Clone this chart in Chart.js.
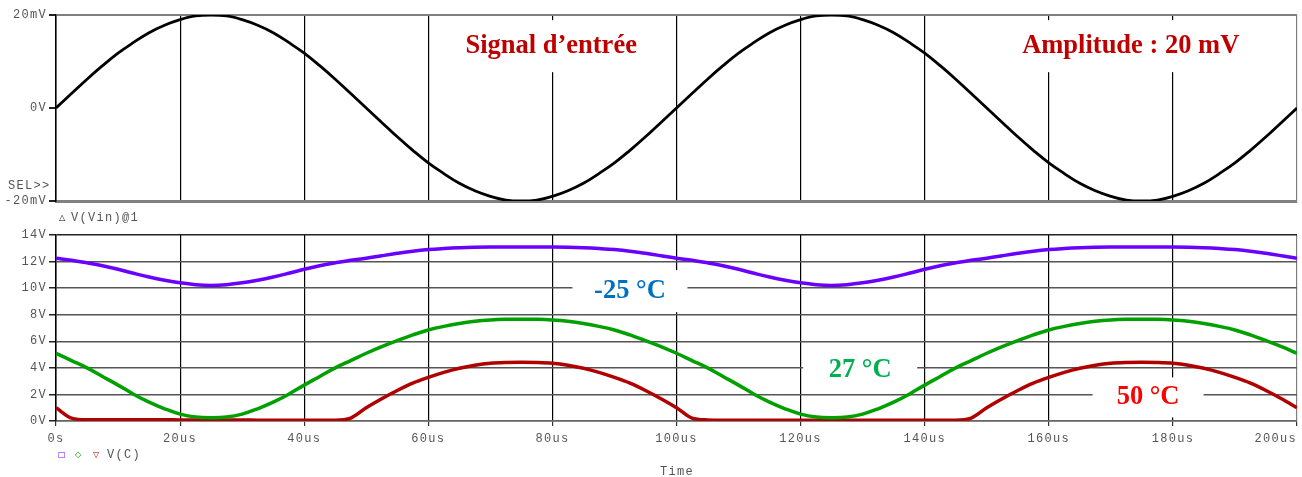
<!DOCTYPE html>
<html>
<head>
<meta charset="utf-8">
<script src="https://cdn.jsdelivr.net/npm/chart.js@4.4.1/dist/chart.umd.min.js"></script>
<style>
  body { margin: 0; background: #fff; width: 1302px; height: 477px; overflow: hidden; position: relative; }
  canvas { position: absolute; left: 0; }
  #topChart { top: 0; }
  #botChart { top: 220px; }
  .txt { position: absolute; font-family: "Liberation Mono", monospace; font-size: 12px; line-height: 12px; color: #555; letter-spacing: 1.3px; white-space: nowrap; }
  .sym { position: absolute; font-family: "DejaVu Sans", sans-serif; font-size: 8px; line-height: 8px; }
</style>
</head>
<body>
<canvas id="topChart" width="1302" height="230"></canvas>
<canvas id="botChart" width="1302" height="257"></canvas>

<div class="txt" style="left:8px; top:180px;">SEL&gt;&gt;</div>
<div class="sym" style="left:59px; top:214px; color:#000;">△</div>
<div class="txt" style="left:71px; top:212px;">V(Vin)@1</div>
<div class="sym" style="left:58px; top:451px; color:#6a00ff;">□</div>
<div class="sym" style="left:75px; top:451px; color:#00a000;">◇</div>
<div class="sym" style="left:93px; top:451px; color:#b00000;">▽</div>
<div class="txt" style="left:107px; top:449px;">V(C)</div>
<div class="txt" style="left:660px; top:466px;">Time</div>

<script>
// time axis, us (2.5us step)
const times = Array.from({ length: 81 }, (_, i) => i * 2.5)

// input signal, mV
const vin = [
  0, 3.1, 6.2, 9.1, 11.8, 14.1, 16.2, 17.8, 19.0, 19.8, 20, 19.8, 19.0, 17.8, 16.2, 14.1, 11.8, 9.1, 6.2, 3.1,
  0, -3.1, -6.2, -9.1, -11.8, -14.1, -16.2, -17.8, -19.0, -19.8, -20, -19.8, -19.0, -17.8, -16.2, -14.1, -11.8, -9.1, -6.2, -3.1,
  0, 3.1, 6.2, 9.1, 11.8, 14.1, 16.2, 17.8, 19.0, 19.8, 20, 19.8, 19.0, 17.8, 16.2, 14.1, 11.8, 9.1, 6.2, 3.1,
  0, -3.1, -6.2, -9.1, -11.8, -14.1, -16.2, -17.8, -19.0, -19.8, -20, -19.8, -19.0, -17.8, -16.2, -14.1, -11.8, -9.1, -6.2, -3.1,
  0
]

// V(C) at -25 °C, V
const vcCold = [
  12.25, 12.1, 11.9, 11.68, 11.42, 11.12, 10.84, 10.6, 10.4, 10.26, 10.2, 10.26, 10.4, 10.6, 10.84, 11.12, 11.42, 11.68, 11.9, 12.1,
  12.25, 12.44, 12.62, 12.78, 12.9, 12.98, 13.04, 13.08, 13.1, 13.1, 13.1, 13.1, 13.1, 13.08, 13.04, 12.98, 12.9, 12.78, 12.62, 12.44,
  12.25, 12.1, 11.9, 11.68, 11.42, 11.12, 10.84, 10.6, 10.4, 10.26, 10.2, 10.26, 10.4, 10.6, 10.84, 11.12, 11.42, 11.68, 11.9, 12.1,
  12.25, 12.44, 12.62, 12.78, 12.9, 12.98, 13.04, 13.08, 13.1, 13.1, 13.1, 13.1, 13.1, 13.08, 13.04, 12.98, 12.9, 12.78, 12.62, 12.44,
  12.25
]

// V(C) at 27 °C, V
const vcRoom = [
  5.1, 4.55, 4.0, 3.35, 2.7, 2.02, 1.42, 0.92, 0.52, 0.3, 0.25, 0.3, 0.52, 0.92, 1.42, 2.02, 2.7, 3.35, 4.0, 4.55,
  5.1, 5.6, 6.05, 6.48, 6.85, 7.12, 7.34, 7.5, 7.6, 7.65, 7.66, 7.65, 7.6, 7.5, 7.34, 7.12, 6.85, 6.48, 6.05, 5.6,
  5.1, 4.55, 4.0, 3.35, 2.7, 2.02, 1.42, 0.92, 0.52, 0.3, 0.25, 0.3, 0.52, 0.92, 1.42, 2.02, 2.7, 3.35, 4.0, 4.55,
  5.1, 5.6, 6.05, 6.48, 6.85, 7.12, 7.34, 7.5, 7.6, 7.65, 7.66, 7.65, 7.6, 7.5, 7.34, 7.12, 6.85, 6.48, 6.05, 5.6,
  5.1
]

// V(C) at 50 °C, V
const vcHot = [
  1.0, 0.22, 0.1, 0.1, 0.1, 0.1, 0.1, 0.1, 0.08, 0.08, 0.08, 0.08, 0.08, 0.06, 0.06, 0.06, 0.06, 0.06, 0.06, 0.22,
  1.0, 1.68, 2.3, 2.85, 3.28, 3.66, 3.97, 4.2, 4.35, 4.41, 4.43, 4.41, 4.35, 4.2, 3.97, 3.66, 3.28, 2.85, 2.3, 1.68,
  1.0, 0.22, 0.08, 0.06, 0.06, 0.06, 0.06, 0.06, 0.06, 0.06, 0.06, 0.06, 0.06, 0.06, 0.06, 0.06, 0.06, 0.06, 0.06, 0.22,
  1.0, 1.68, 2.3, 2.85, 3.28, 3.66, 3.97, 4.2, 4.35, 4.41, 4.43, 4.41, 4.35, 4.2, 3.97, 3.66, 3.28, 2.85, 2.3, 1.68,
  1.0
]

const xTicks = [0, 20, 40, 60, 80, 100, 120, 140, 160, 180, 200]
const xTickLabels = ['0s', '20us', '40us', '60us', '80us', '100us', '120us', '140us', '160us', '180us', '200us']
const topTickLabels = { '-20': '-20mV', '0': '0V', '20': '20mV' }

const topNotes = [
  { text: 'Signal d\u2019entrée', x: 79.8, y: 13.3, w: 214, h: 52, color: '#c00000' },
  { text: 'Amplitude : 20 mV', x: 173.2, y: 13.3, w: 262, h: 52, color: '#c00000' }
]
const botNotes = [
  { text: '-25 °C', x: 92.5, y: 10, w: 115, h: 42, dy: 3, color: '#0070c0' },
  { text: '27 °C', x: 129.6, y: 4, w: 114, h: 40, dy: 2, color: '#00b050' },
  { text: '50 °C', x: 176, y: 2, w: 111, h: 40, dy: 3, color: '#ff0000' }
]

const toPoints = vals => times.map((t, i) => ({ x: t, y: vals[i] }))

// spaced-out mono tick text, like the simulator output
const spacing = {
  id: 'spacing',
  beforeDraw(chart) {
    chart.ctx.letterSpacing = '1.3px'
  }
}

// text labels sitting on white boxes over the grid
function notesPlugin(items) {
  return {
    id: 'notes',
    beforeDatasetsDraw(chart) {
      const ctx = chart.ctx
      const xs = chart.scales.x
      const ys = chart.scales.y
      items.forEach(it => {
        const cx = xs.getPixelForValue(it.x)
        const cy = ys.getPixelForValue(it.y) + (it.dy || 0)
        ctx.save()
        ctx.letterSpacing = '0px'
        ctx.fillStyle = '#fff'
        ctx.fillRect(cx - it.w / 2, cy - it.h / 2, it.w, it.h)
        ctx.font = 'bold 26.5px "Liberation Serif"'
        ctx.fillStyle = it.color
        ctx.textAlign = 'center'
        ctx.textBaseline = 'middle'
        ctx.fillText(it.text, cx, cy)
        ctx.restore()
      })
    }
  }
}

const tickFont = { family: "'Liberation Mono', monospace", size: 12 }

function xAxis(showLabels) {
  return {
    type: 'linear',
    min: 0,
    max: 200,
    afterBuildTicks: s => { s.ticks = xTicks.map(v => ({ value: v })) },
    ticks: {
      display: showLabels,
      color: '#555',
      font: tickFont,
      padding: 6,
      maxRotation: 0,
      autoSkip: false,
      callback: v => {
        const lbl = xTickLabels[xTicks.indexOf(v)]
        return v === 200 ? lbl + '     ' : lbl
      }
    },
    grid: {
      color: c => (c.tick && c.tick.value === 200) ? '#808080' : '#000',
      lineWidth: 1.2,
      drawTicks: showLabels,
      tickLength: 5,
      tickColor: '#333'
    },
    border: { display: true, color: showLabels ? '#666' : '#808080', width: showLabels ? 1.5 : 3 },
    afterFit: s => {
      s.height = showLabels ? 36 : 0
      s.paddingLeft = 0
      s.paddingRight = 0
    }
  }
}

new Chart(document.getElementById('topChart'), {
  type: 'line',
  data: {
    datasets: [{
      data: toPoints(vin),
      borderColor: '#000',
      borderWidth: 2.8,
      pointRadius: 0,
      tension: 0.4,
      fill: false
    }]
  },
  options: {
    responsive: false,
    animation: false,
    devicePixelRatio: 1,
    layout: { padding: { left: 0, right: 5, top: 15, bottom: 29 } },
    plugins: { legend: { display: false }, tooltip: { enabled: false } },
    scales: {
      x: xAxis(false),
      y: {
        min: -20,
        max: 20,
        ticks: {
          stepSize: 20,
          color: '#555',
          font: tickFont,
          padding: 2,
          callback: v => topTickLabels[String(v)]
        },
        grid: {
          color: c => (c.tick && c.tick.value === 0) ? 'rgba(0,0,0,0)' : '#808080',
          lineWidth: 2,
          tickLength: 7,
          tickColor: '#222'
        },
        border: { color: '#000', width: 1.5 },
        afterFit: s => { s.width = 56 }
      }
    }
  },
  plugins: [spacing, notesPlugin(topNotes)]
})

new Chart(document.getElementById('botChart'), {
  type: 'line',
  data: {
    datasets: [
      { label: '-25 °C', data: toPoints(vcCold), borderColor: '#6a00ff', borderWidth: 3.5, pointRadius: 0, tension: 0.4, fill: false },
      { label: '27 °C', data: toPoints(vcRoom), borderColor: '#00a000', borderWidth: 3.5, pointRadius: 0, tension: 0.4, fill: false },
      { label: '50 °C', data: toPoints(vcHot), borderColor: '#b00000', borderWidth: 3.5, pointRadius: 0, cubicInterpolationMode: 'monotone', fill: false }
    ]
  },
  options: {
    responsive: false,
    animation: false,
    devicePixelRatio: 1,
    layout: { padding: { left: 0, right: 5, top: 15, bottom: 20 } },
    plugins: { legend: { display: false }, tooltip: { enabled: false } },
    scales: {
      x: xAxis(true),
      y: {
        min: 0,
        max: 14,
        ticks: {
          stepSize: 2,
          color: '#555',
          font: tickFont,
          padding: 2,
          callback: v => v + 'V'
        },
        grid: {
          color: c => (c.tick && c.tick.value === 14) ? '#222' : '#555',
          lineWidth: 1.5,
          tickLength: 7,
          tickColor: '#222'
        },
        border: { color: '#000', width: 1.5 },
        afterFit: s => { s.width = 56 }
      }
    }
  },
  plugins: [spacing, notesPlugin(botNotes)]
})
</script>
</body>
</html>
